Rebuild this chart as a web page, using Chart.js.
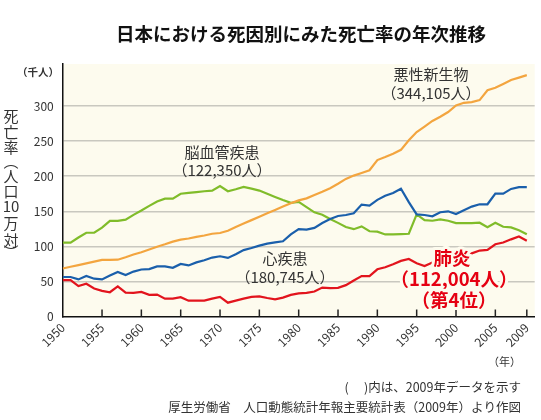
<!DOCTYPE html>
<html lang="ja">
<head>
<meta charset="utf-8">
<script src="https://cdn.jsdelivr.net/npm/chart.js@4.4.1/dist/chart.umd.min.js"></script>
<style>
  html, body { margin: 0; padding: 0; background: #fff; }
  #wrap { width: 541px; height: 420px; }
</style>
</head>
<body>
<div id="wrap"><canvas id="deathChart" width="541" height="420"></canvas></div>
<script>
// deaths per year, thousands
const years = [
  1950, 1951, 1952, 1953, 1954, 1955, 1956, 1957, 1958, 1959,
  1960, 1961, 1962, 1963, 1964, 1965, 1966, 1967, 1968, 1969,
  1970, 1971, 1972, 1973, 1974, 1975, 1976, 1977, 1978, 1979,
  1980, 1981, 1982, 1983, 1984, 1985, 1986, 1987, 1988, 1989,
  1990, 1991, 1992, 1993, 1994, 1995, 1996, 1997, 1998, 1999,
  2000, 2001, 2002, 2003, 2004, 2005, 2006, 2007, 2008, 2009
];
const cancer = [
  68.4, 70.9, 73.3, 75.7, 78.2, 80.6, 80.6, 81.0, 84.5, 88.3,
  91.7, 95.6, 99.5, 102.9, 106.8, 109.5, 111.2, 113.6, 115.5, 118.0,
  119.0, 122.3, 127.7, 132.5, 137.4, 142.3, 147.1, 151.9, 156.7, 161.4,
  165.5, 168.4, 173.1, 177.8, 183.0, 189.2, 196.2, 200.9, 204.7, 208.5,
  223.0, 227.3, 232.0, 237.6, 251.3, 263.0, 270.8, 278.8, 284.9, 291.5,
  301.0, 304.7, 305.7, 308.5, 322.6, 326.0, 331.6, 337.3, 340.6, 344.1
];
const heart = [
  56.3, 56.3, 52.9, 57.8, 53.9, 52.9, 58.3, 63.6, 59.2, 64.0,
  67.0, 67.5, 71.4, 71.4, 69.4, 75.0, 72.8, 77.2, 80.1, 84.0,
  85.9, 83.5, 88.8, 94.7, 97.6, 101.0, 103.9, 105.8, 107.3, 117.0,
  124.5, 124.0, 126.4, 133.2, 139.0, 143.3, 144.7, 147.1, 159.6, 158.2,
  166.3, 172.1, 176.0, 182.2, 163.0, 145.5, 144.7, 142.8, 148.6, 150.0,
  146.2, 151.4, 156.7, 160.0, 160.0, 175.2, 175.2, 181.9, 184.5, 184.5
];
const stroke = [
  105.3, 105.3, 112.6, 119.4, 119.4, 126.7, 136.4, 136.4, 138.0, 144.9,
  151.1, 157.7, 164.0, 168.0, 168.0, 175.0, 176.3, 177.4, 178.6, 179.5,
  186.0, 178.6, 181.4, 184.8, 182.4, 179.5, 175.0, 170.5, 166.0, 162.0,
  163.5, 156.0, 148.5, 145.0, 139.0, 133.5, 127.5, 124.5, 128.5, 121.5,
  121.0, 117.0, 117.0, 117.5, 118.0, 145.5, 137.5, 136.5, 138.5, 136.5,
  133.2, 133.2, 133.2, 133.7, 127.4, 133.7, 127.9, 127.0, 123.0, 117.3
];
const pneumonia = [
  51.9, 51.9, 43.3, 46.6, 39.9, 36.5, 34.6, 42.8, 34.1, 33.7,
  35.1, 30.8, 31.3, 25.5, 25.5, 27.5, 22.6, 22.6, 22.6, 25.5,
  27.9, 19.7, 22.6, 25.5, 27.9, 28.8, 26.4, 24.5, 26.9, 30.8,
  33.0, 33.7, 35.6, 41.3, 40.4, 40.9, 44.7, 51.4, 57.7, 57.7,
  67.3, 70.2, 74.5, 79.3, 82.0, 76.0, 72.0, 77.0, 80.0, 86.0,
  86.0, 86.0, 90.0, 94.0, 95.0, 103.0, 105.5, 110.0, 114.0, 108.0
];
const yearTicks = [1950, 1955, 1960, 1965, 1970, 1975, 1980, 1985, 1990, 1995, 2000, 2005, 2009];
const valueTicks = [0, 50, 100, 150, 200, 250, 300];

const FONT = '"Noto Sans CJK JP", "Noto Sans", sans-serif';
const BG = '#fdfbee';

function toPoints(values) {
  return years.map((yr, i) => ({ x: yr, y: values[i] }));
}

const plotBackground = {
  id: 'plotBackground',
  beforeDraw(chart) {
    const { ctx, chartArea: a } = chart;
    ctx.save();
    ctx.fillStyle = BG;
    ctx.fillRect(a.left, a.top, a.right - a.left, a.bottom - a.top);
    ctx.restore();
  }
};

// short tick marks pointing up into the plot
const innerTicks = {
  id: 'innerTicks',
  beforeDatasetsDraw(chart) {
    const { ctx, chartArea: a, scales: { x } } = chart;
    ctx.save();
    ctx.strokeStyle = '#222';
    ctx.lineWidth = 1.5;
    yearTicks.slice(1).forEach(v => {
      const px = x.getPixelForValue(v);
      ctx.beginPath();
      ctx.moveTo(px, a.bottom);
      ctx.lineTo(px, a.bottom - 7);
      ctx.stroke();
    });
    ctx.restore();
  }
};

const annotations = {
  id: 'annotations',
  afterDraw(chart) {
    const ctx = chart.ctx;
    ctx.save();
    ctx.textBaseline = 'middle';
    ctx.textAlign = 'center';

    ctx.fillStyle = '#111';
    ctx.font = `bold 18.5px ${FONT}`;
    ctx.fillText('日本における死因別にみた死亡率の年次推移', 301, 34);

    ctx.fillStyle = '#333';
    ctx.font = `bold 10.5px ${FONT}`;
    ctx.fillText('（千人）', 38, 72);

    // vertical axis title
    ctx.font = `15px ${FONT}`;
    const vt = [['死', 116], ['亡', 132], ['率', 147], ['︵', 161], ['人', 176], ['口', 191], ['10', 206], ['万', 223], ['対', 240], ['︶', 252]];
    vt.forEach(([c, y]) => ctx.fillText(c, 11, y));

    // series labels
    ctx.font = `15px ${FONT}`;
    ctx.fillStyle = '#333';
    ctx.fillText('悪性新生物', 431, 74);
    ctx.fillText('（344,105人）', 431, 93);
    ctx.fillText('脳血管疾患', 222, 152);
    ctx.fillText('（122,350人）', 222, 170);
    ctx.fillText('心疾患', 285, 258);
    ctx.fillText('（180,745人）', 285, 277);

    ctx.font = `bold 18.5px ${FONT}`;
    ctx.fillStyle = '#e50012';
    ctx.strokeStyle = BG;
    ctx.lineWidth = 6;
    ctx.lineJoin = 'round';
    [['肺炎', 452, 258], ['（112,004人）', 454, 279], ['（第4位）', 454, 300]].forEach(([t, x, y]) => {
      ctx.strokeText(t, x, y);
      ctx.fillText(t, x, y);
    });

    // footnotes
    ctx.textAlign = 'right';
    ctx.fillStyle = '#333';
    ctx.font = `11px ${FONT}`;
    ctx.fillText('（年）', 521, 362);
    ctx.font = `12.5px ${FONT}`;
    ctx.fillText('(　 )内は、2009年データを示す', 521, 387);
    ctx.fillText('厚生労働省　人口動態統計年報主要統計表（2009年）より作図', 521, 407);
    ctx.restore();
  }
};

new Chart(document.getElementById('deathChart'), {
  type: 'line',
  data: {
    datasets: [
      { label: '肺炎', data: toPoints(pneumonia), borderColor: '#e2141d' },
      { label: '心疾患', data: toPoints(heart), borderColor: '#1a5fab' },
      { label: '悪性新生物', data: toPoints(cancer), borderColor: '#f3a53f' },
      { label: '脳血管疾患', data: toPoints(stroke), borderColor: '#80bc2a' }
    ]
  },
  options: {
    responsive: false,
    animation: false,
    layout: { padding: { top: 64, right: 1, left: 0, bottom: 0 } },
    elements: {
      point: { radius: 0 },
      line: { borderWidth: 2.2, tension: 0, fill: false }
    },
    plugins: { legend: { display: false }, tooltip: { enabled: false } },
    scales: {
      x: {
        type: 'linear',
        min: 1950,
        max: 2010,
        afterBuildTicks: s => { s.ticks = yearTicks.map(v => ({ value: v })); },
        afterFit: s => { s.height = 103.5; },
        grid: { display: false, drawTicks: false },
        border: { display: true, color: '#111', width: 1.5 },
        ticks: {
          autoSkip: false, minRotation: 45, maxRotation: 45, padding: 4,
          color: '#333', font: { family: FONT, size: 12 },
          callback: v => String(v)
        }
      },
      y: {
        min: 0,
        max: 360,
        afterBuildTicks: s => { s.ticks = valueTicks.map(v => ({ value: v })); },
        afterFit: s => { s.width = 62.7; },
        grid: {
          color: c => (c.tick && c.tick.value === 0) ? 'rgba(0,0,0,0)' : '#c9c8bf',
          lineWidth: 1.5,
          drawTicks: false
        },
        border: { display: true, color: '#111', width: 1.5 },
        ticks: {
          padding: 9, color: '#333', font: { family: FONT, size: 12 },
          callback: v => String(v)
        }
      }
    }
  },
  plugins: [plotBackground, innerTicks, annotations]
});
</script>
</body>
</html>
